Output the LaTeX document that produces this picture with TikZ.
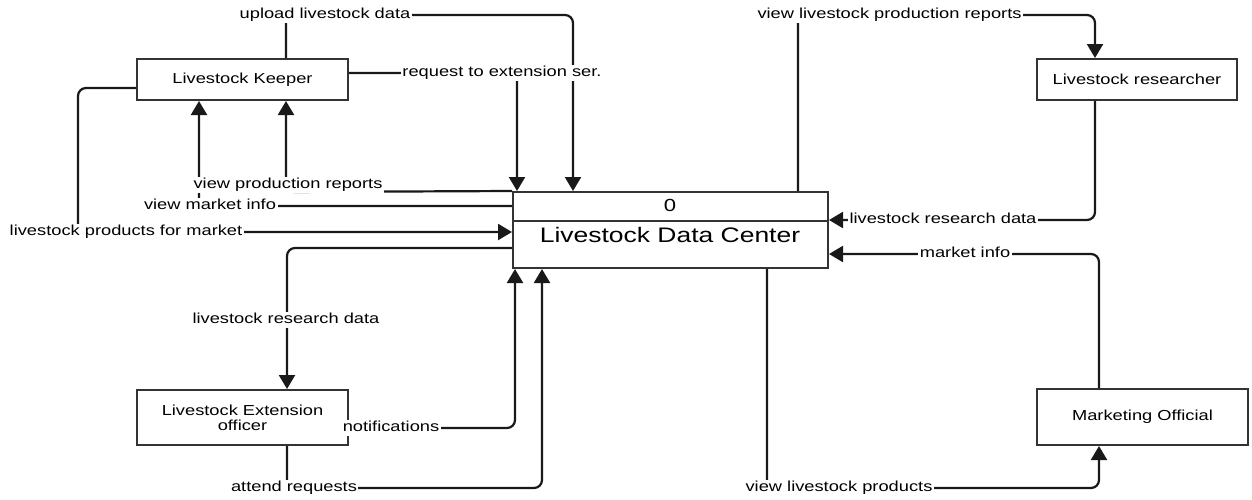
\documentclass[tikz,border=0pt]{standalone}
\usepackage{fontspec}
\setmainfont{Liberation Sans}[FakeStretch=1.26]
\usetikzlibrary{arrows.meta}
\begin{document}
\begin{tikzpicture}[x=1pt,y=-1pt,
  box/.style={draw=black!80, line width=2pt, rectangle, inner sep=0pt, align=center, text=black, font=\fontsize{14.5}{15}\selectfont},
  flow/.style={draw=black!90, line width=2.2pt, rounded corners=8pt},
  arr/.style={flow, -{Triangle[length=14pt,width=16pt]}},
  lbl/.style={fill=white, inner sep=1.5pt, text height=10.5pt, text depth=3pt, text=black, font=\fontsize{14.5}{15}\selectfont}]
\useasboundingbox[fill=white] (0,0) rectangle (1252,499);
% entities
\node[box, minimum width=211pt, minimum height=41pt] (keeper) at (242.5,79.5) {Livestock Keeper};
\node[box, minimum width=200pt, minimum height=41pt] (researcher) at (1137,79.5) {Livestock researcher};
\node[box, minimum width=211pt, minimum height=55pt] (extension) at (242.5,417.5) {Livestock Extension\\officer};
\node[box, minimum width=211pt, minimum height=56pt] (marketing) at (1142.5,417) {Marketing Official};
% process
\node[box, minimum width=315pt, minimum height=76pt] (dc) at (670.5,230) {};
\draw[draw=black!80, line width=2pt] (dc.west |- 0,221) -- (dc.east |- 0,221);
\node[text=black, font=\fontsize{17.5}{20}\selectfont] (dcnum) at (670,205) {0};
\node[text=black, font=\fontsize{21}{24}\selectfont] (dctitle) at (670,235) {Livestock Data Center};
% flows
\draw[arr] (keeper.north -| 286,0) -- (286,15) -- (573,15) -- (dc.north -| 573,0);
\draw[arr] (keeper.east |- 0,73) -- (517,73) -- (dc.north -| 517,0);
\draw[arr] (dc.north west) -- (286,192) -- (keeper.south -| 286,0);
\draw[arr] (dc.west |- 0,206) -- (199,206) -- (keeper.south -| 199,0);
\draw[arr] (keeper.west |- 0,88) -- (78,88) -- (78,232) -- (dc.west |- 0,232);
\draw[arr] (dc.west |- 0,248) -- (287,248) -- (extension.north -| 287,0);
\draw[arr] (extension.east |- 0,428) -- (515,428) -- (dc.south -| 515,0);
\draw[arr] (extension.south -| 287,0) -- (287,488) -- (542,488) -- (dc.south -| 542,0);
\draw[arr] (dc.north -| 798,0) -- (798,15) -- (1095,15) -- (researcher.north -| 1095,0);
\draw[arr] (researcher.south -| 1095,0) -- (1095,220) -- (dc.east |- 0,220);
\draw[arr] (marketing.north -| 1099,0) -- (1099,254) -- (dc.east |- 0,254);
\draw[arr] (dc.south -| 767,0) -- (767,488) -- (1099,488) -- (marketing.south -| 1099,0);
% labels
\node[lbl] (l1) at (325,15) {upload livestock data};
\node[lbl] (l2) at (502,73) {request to extension ser.};
\node[lbl] (l3) at (288,185) {view production reports};
\node[lbl] (l4) at (210,206) {view market info};
\node[lbl] (l5) at (126,232) {livestock products for market};
\node[lbl] (l6) at (286,320) {livestock research data};
\node[lbl] (l7) at (391,428) {notifications};
\node[lbl] (l8) at (294,488) {attend requests};
\node[lbl] (l9) at (889.5,15) {view livestock production reports};
\node[lbl] (l10) at (943,220) {livestock research data};
\node[lbl] (l11) at (965,254) {market info};
\node[lbl] (l12) at (839,488) {view livestock products};
\end{tikzpicture}
\end{document}
